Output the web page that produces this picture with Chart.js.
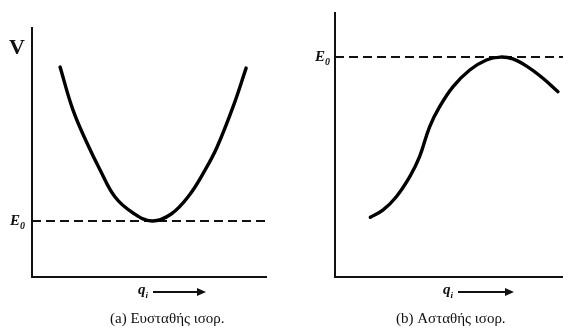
<!DOCTYPE html>
<html>
<head>
<meta charset="utf-8">
<script src="https://cdn.jsdelivr.net/npm/chart.js@4"></script>
<style>
  html, body { margin:0; padding:0; background:#fff; }
  #wrap { position:relative; width:563px; height:329px; overflow:hidden; background:#fff; }
  canvas { position:absolute; top:0; }
  .lbl { position:absolute; font-family:"Liberation Serif", "DejaVu Serif", serif; color:#111; white-space:nowrap; line-height:1; }
  .bi { font-weight:bold; font-style:italic; }
  .arrow { position:absolute; height:2px; background:#111; }
  .arrow::after { content:""; position:absolute; right:-2px; top:-3px; border-left:9px solid #111; border-top:4px solid transparent; border-bottom:4px solid transparent; }
</style>
</head>
<body>
<div id="wrap">
  <canvas id="ca" width="280" height="329" style="left:0;width:280px;height:329px"></canvas>
  <canvas id="cb" width="283" height="329" style="left:280px;width:283px;height:329px"></canvas>

  <div class="lbl" style="left:9px;top:36px;font-size:22px;font-weight:bold;">V</div>
  <div class="lbl bi" style="left:10px;top:213px;font-size:15px;">E<sub style="font-size:10px">0</sub></div>
  <div class="lbl bi" style="left:315px;top:49px;font-size:15px;">E<sub style="font-size:10px">0</sub></div>

  <div class="lbl bi" style="left:138px;top:282px;font-size:15px;">q<sub style="font-size:9px">i</sub></div>
  <div class="arrow" style="left:153px;top:291px;width:51px;"></div>
  <div class="lbl bi" style="left:443px;top:282px;font-size:15px;">q<sub style="font-size:9px">i</sub></div>
  <div class="arrow" style="left:458px;top:291px;width:54px;"></div>

  <div class="lbl" style="left:110px;top:311px;font-size:15px;">(a) Ευσταθής ισορ.</div>
  <div class="lbl" style="left:396px;top:311px;font-size:15px;">(b) Ασταθής ισορ.</div>
</div>
<script>
// Panel (a): stable equilibrium (V vs q_i)
const stableQ = [12.0, 17.5, 23.5, 29.1, 35.5, 43.2, 51.3, 59.5, 67.2, 74.0, 79.1, 85.9, 91.5];
const stableV = [84.3, 67.1, 53.8, 43.0, 32.1, 25.7, 22.5, 25.3, 32.8, 43.0, 52.2, 68.3, 83.9];
const stableE0 = 22.5;

// Panel (b): unstable equilibrium
const unstableQ = [15.5, 21.1, 26.9, 32.8, 37.1, 41.5, 45.9, 51.8, 59.1, 66.4, 72.5, 78.0, 84.5, 91.2, 97.8];
const unstableV = [22.6, 25.4, 30.4, 38.0, 45.6, 56.9, 64.5, 72.1, 78.4, 82.2, 83.3, 82.6, 79.6, 75.3, 70.2];
const unstableE0 = 83.3;

const axisRange = [0, 100];

function pts(xs, ys) { return xs.map((x, i) => ({ x: x, y: ys[i] })); }

function makeChart(id, xs, ys, e0, padding) {
  const axis = {
    type: 'linear', min: axisRange[0], max: axisRange[1],
    ticks: { display: false },
    grid: { display: false, drawTicks: false },
    border: { display: true, color: '#111', width: 2 }
  };
  return new Chart(document.getElementById(id), {
    type: 'scatter',
    data: {
      datasets: [
        {
          data: pts(xs, ys), showLine: true, borderColor: '#000', borderWidth: 3.4,
          pointRadius: 0, tension: 0.4, fill: false, borderCapStyle: 'round'
        },
        {
          data: pts(axisRange, [e0, e0]), showLine: true, borderColor: '#111', borderWidth: 2,
          borderDash: [9, 5], pointRadius: 0, fill: false
        }
      ]
    },
    options: {
      responsive: false, animation: false, maintainAspectRatio: false,
      layout: { padding: padding },
      plugins: { legend: { display: false }, tooltip: { enabled: false } },
      scales: { x: axis, y: Object.assign({}, axis) }
    }
  });
}

makeChart('ca', stableQ, stableV, stableE0, { left: 32, top: 28, right: 14, bottom: 52 });
makeChart('cb', unstableQ, unstableV, unstableE0, { left: 55, top: 13, right: 0, bottom: 52 });
</script>
</body>
</html>
